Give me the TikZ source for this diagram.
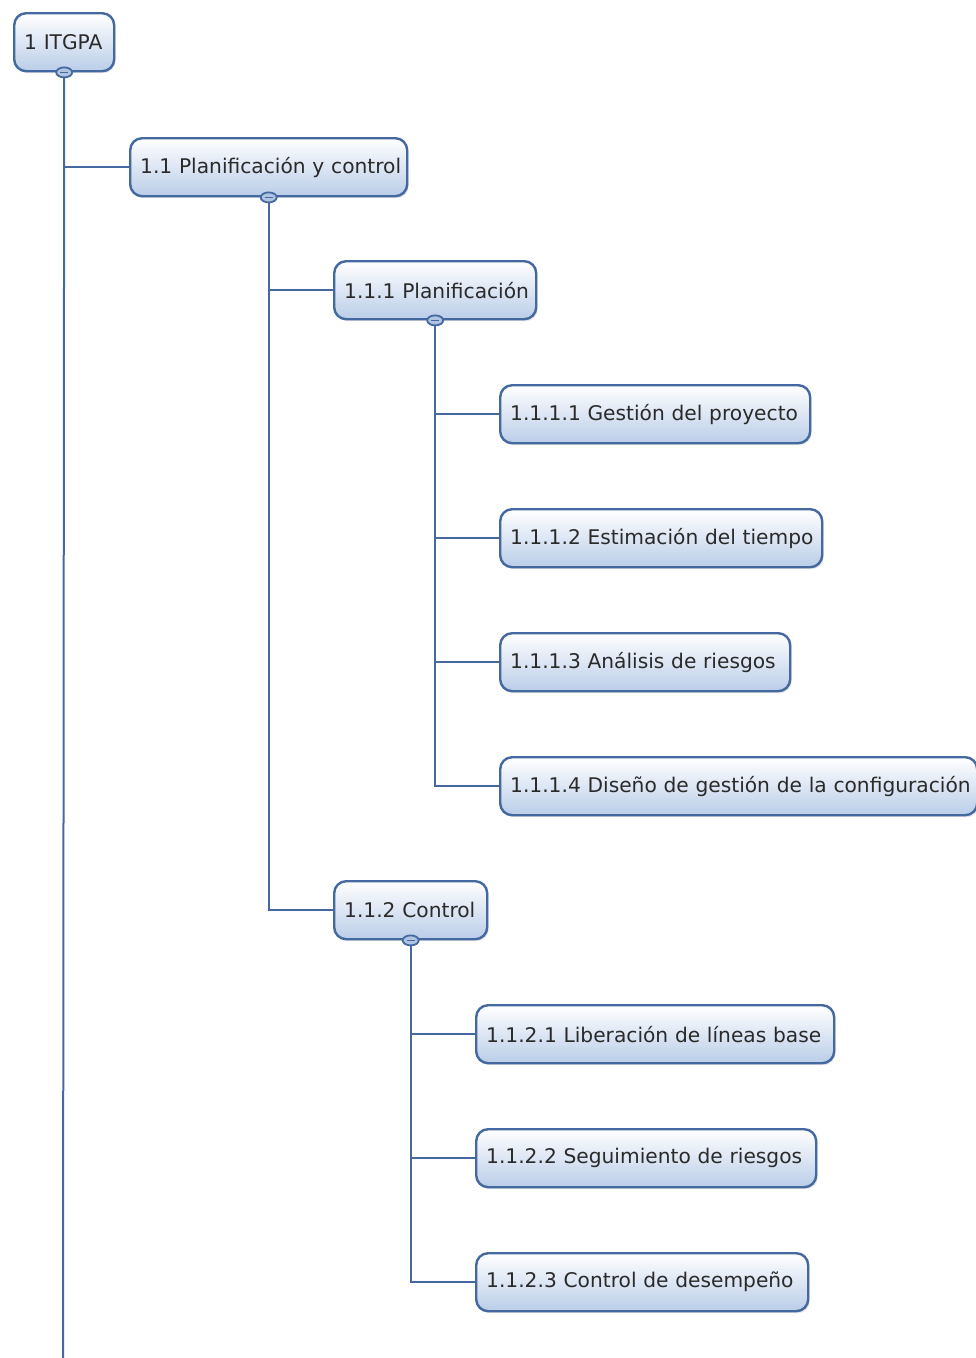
\documentclass[tikz,border=0pt]{standalone}
\usepackage{fontspec}
\setmainfont{DejaVu Sans}
\usetikzlibrary{shadows,shapes.geometric}
\definecolor{boxedge}{HTML}{4468A0}
\definecolor{boxlow}{HTML}{BACDE8}
\definecolor{wire}{HTML}{4568A0}
\definecolor{ink}{HTML}{2A2A2A}
\definecolor{knob}{HTML}{B0C4E2}

\begin{document}
\begin{tikzpicture}[x=1pt,y=-1pt,
  wbs/.style={draw=boxedge, line width=2.4pt, rounded corners=12pt,
    top color=white, bottom color=boxlow, minimum height=58pt,
    inner xsep=10pt, inner ysep=0pt, text width=#1, align=left,
    anchor=north west, text=ink, font=\fontsize{20.2}{24}\selectfont,
    drop shadow={shadow xshift=1.5pt, shadow yshift=-2pt, opacity=0.2, fill=gray}},
  knobstyle/.style={ellipse, draw=boxedge, line width=1.8pt, fill=knob,
    minimum width=16pt, minimum height=10pt, inner sep=0pt,
    path picture={\draw[boxedge, line width=1.6pt]
      ([xshift=-4pt]path picture bounding box.center) --
      ([xshift=4pt]path picture bounding box.center);}},
  wirestyle/.style={draw=wire, line width=2pt}
]
\useasboundingbox (0,0) rectangle (976,1358);

% work breakdown boxes
\node[wbs=80]  (n1)    at (13,12)    {\mbox{1 ITGPA}};
\node[wbs=257] (n11)   at (129,137)  {\mbox{1.1 Planificación y control}};
\node[wbs=182] (n111)  at (333,260)  {\mbox{1.1.1 Planificación}};
\node[wbs=290] (n1111) at (499,384)  {\mbox{1.1.1.1 Gestión del proyecto}};
\node[wbs=302] (n1112) at (499,508)  {\mbox{1.1.1.2 Estimación del tiempo}};
\node[wbs=270] (n1113) at (499,632)  {\mbox{1.1.1.3 Análisis de riesgos}};
\node[wbs=457] (n1114) at (499,756)  {\mbox{1.1.1.4 Diseño de gestión de la configuración}};
\node[wbs=133] (n112)  at (333,880)  {\mbox{1.1.2 Control}};
\node[wbs=338] (n1121) at (475,1004) {\mbox{1.1.2.1 Liberación de líneas base}};
\node[wbs=320] (n1122) at (475,1128) {\mbox{1.1.2.2 Seguimiento de riesgos}};
\node[wbs=312] (n1123) at (475,1252) {\mbox{1.1.2.3 Control de desempeño}};

\coordinate (trunkend) at (63,1358);

% connectors
\draw[wirestyle] (n1.south) -- (trunkend);
\draw[wirestyle] (n1.south) |- (n11.west);
\draw[wirestyle] (n11.south) |- (n111.west);
\draw[wirestyle] (n11.south) |- (n112.west);
\draw[wirestyle] (n111.south) |- (n1111.west);
\draw[wirestyle] (n111.south) |- (n1112.west);
\draw[wirestyle] (n111.south) |- (n1113.west);
\draw[wirestyle] (n111.south) |- (n1114.west);
\draw[wirestyle] (n112.south) |- (n1121.west);
\draw[wirestyle] (n112.south) |- (n1122.west);
\draw[wirestyle] (n112.south) |- (n1123.west);

% collapse toggles
\node[knobstyle] (k1)   at (n1.south)   {};
\node[knobstyle] (k11)  at (n11.south)  {};
\node[knobstyle] (k111) at (n111.south) {};
\node[knobstyle] (k112) at (n112.south) {};
\end{tikzpicture}
\end{document}
